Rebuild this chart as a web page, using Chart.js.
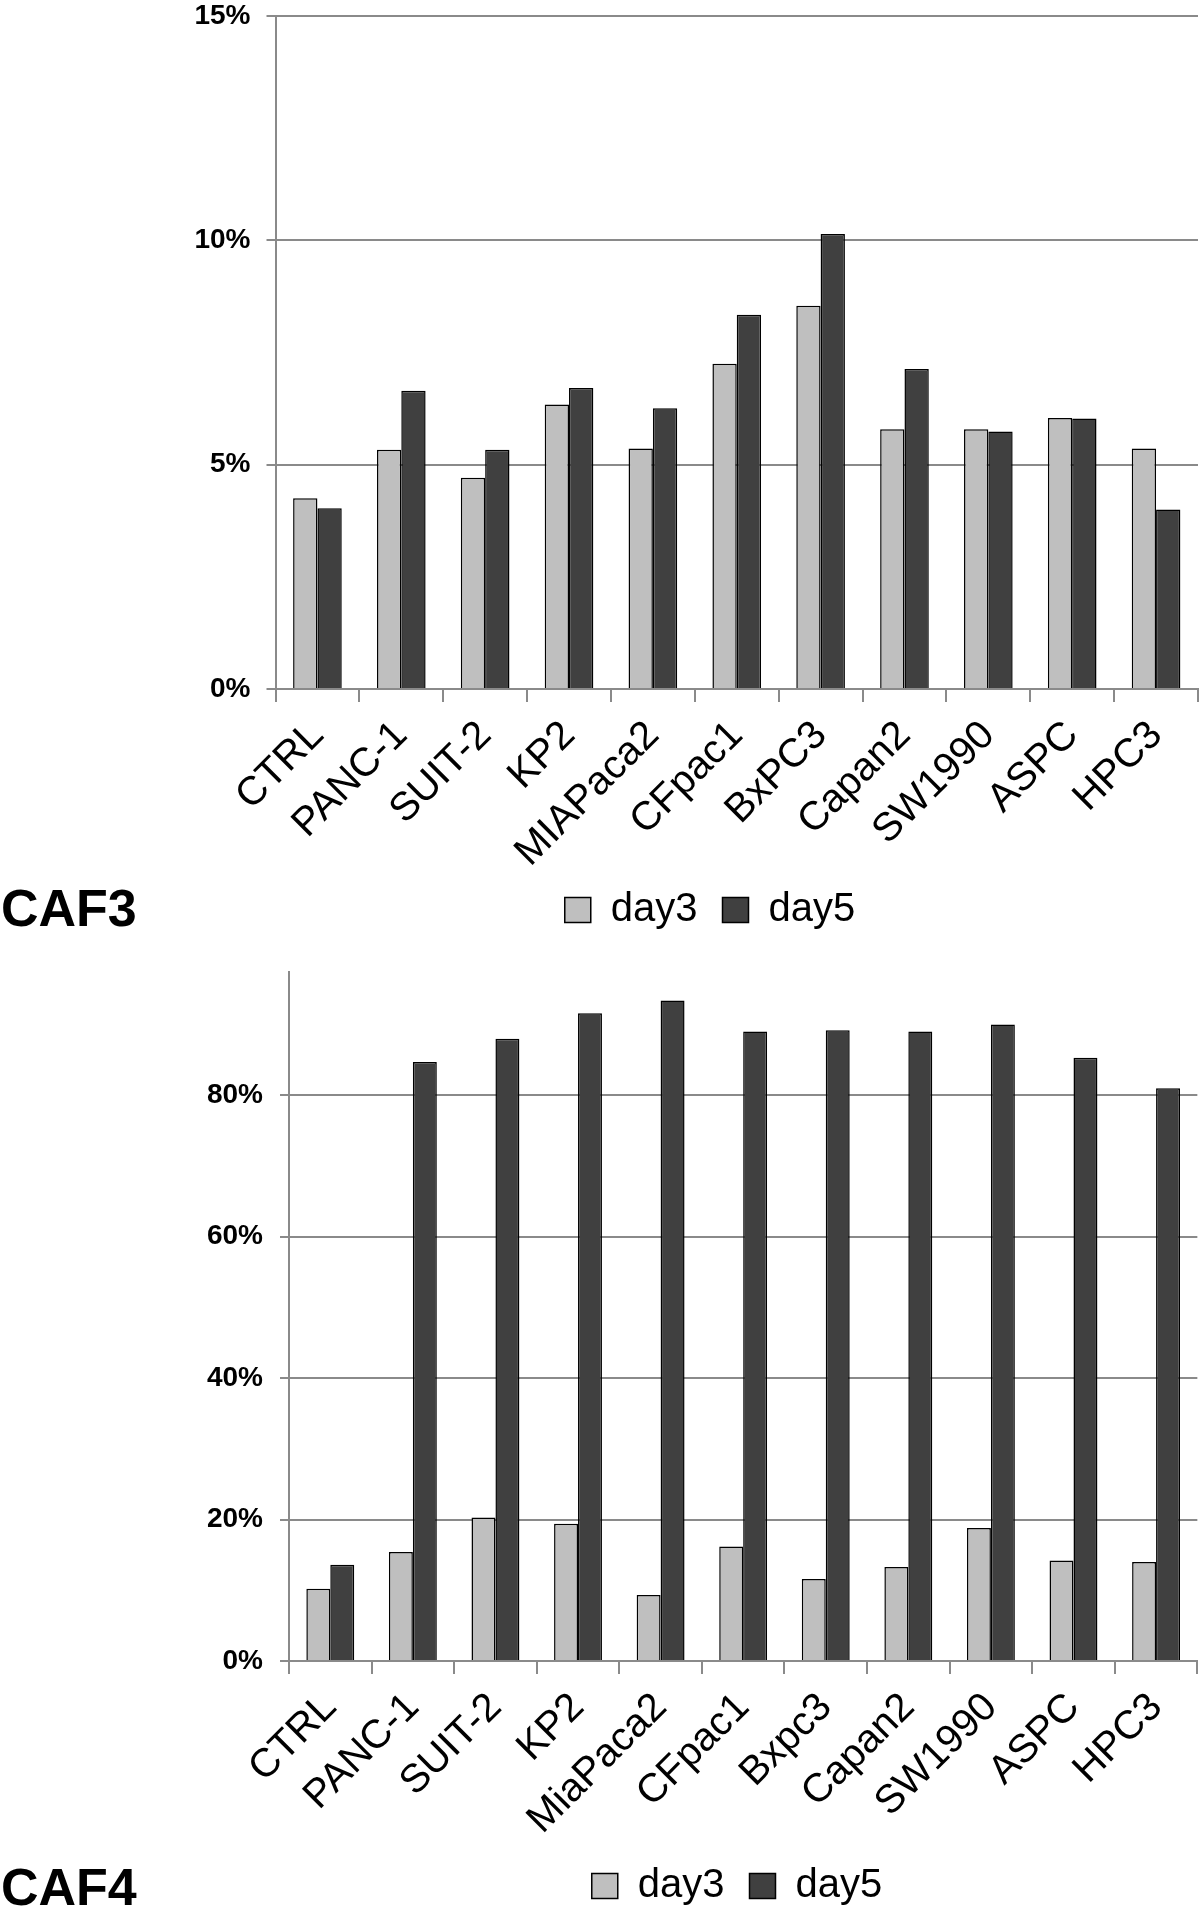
<!DOCTYPE html>
<html>
<head>
<meta charset="utf-8">
<title>CAF3 / CAF4</title>
<script src="https://cdn.jsdelivr.net/npm/chart.js@4.4.1/dist/chart.umd.min.js"></script>
<style>
  html, body { margin: 0; padding: 0; background: #fff; overflow: hidden; }
  body { width: 1200px; height: 1914px; position: relative; font-family: "Liberation Sans", Arial, Helvetica, sans-serif; }
  .panel { position: absolute; left: 0; width: 1200px; }
  .tag { position: absolute; left: 1px; font-weight: bold; font-size: 52px; line-height: 1; color: #000; }
</style>
</head>
<body>
<div class="panel" style="top:0;height:945px"><canvas id="caf3Chart" width="1200" height="945"></canvas></div>
<div class="panel" style="top:945px;height:1000px"><canvas id="caf4Chart" width="1200" height="1000"></canvas></div>
<div class="tag" style="top:882px">CAF3</div>
<div class="tag" style="top:1861px">CAF4</div>

<script>
// values (percent)
var caf3Labels = ["CTRL", "PANC-1", "SUIT-2", "KP2", "MIAPaca2", "CFpac1", "BxPC3", "Capan2", "SW1990", "ASPC", "HPC3"];
var caf3Day3 = [4.25, 5.33, 4.71, 6.34, 5.36, 7.25, 8.54, 5.79, 5.79, 6.04, 5.36];
var caf3Day5 = [4.03, 6.65, 5.33, 6.71, 6.26, 8.34, 10.14, 7.13, 5.74, 6.03, 4.0];
var caf3Ticks = [0, 5, 10, 15];

var caf4Labels = ["CTRL", "PANC-1", "SUIT-2", "KP2", "MiaPaca2", "CFpac1", "Bxpc3", "Capan2", "SW1990", "ASPC", "HPC3"];
var caf4Day3 = [10.2, 15.4, 20.3, 19.4, 9.35, 16.2, 11.6, 13.3, 18.8, 14.2, 14.0];
var caf4Day5 = [13.6, 84.7, 88.0, 91.6, 93.4, 89.0, 89.2, 89.0, 90.0, 85.3, 81.0];
var caf4Ticks = [0, 20, 40, 60, 80];

Chart.defaults.font.family = '"Liberation Sans", Arial, Helvetica, sans-serif';

var axisGrey = '#8a8a8a';

// the legend in the figure is not centred on the canvas, move its box
var legendShift = {
    id: 'legendShift',
    afterLayout: function(chart, args, opts) {
        var lg = chart.legend;
        if (!lg || opts.center == null) return;
        lg.left = 2 * opts.center - lg.right;
    }
};

function buildChart(id, labels, day3, day5, yMax, yTicks, g) {
    var ctx = document.getElementById(id).getContext('2d');
    return new Chart(ctx, {
        type: 'bar',
        data: {
            labels: labels,
            datasets: [{
                label: 'day3',
                data: day3,
                backgroundColor: '#bfbfbf',
                borderColor: '#000',
                borderWidth: 1.5,
                borderSkipped: 'bottom'
            }, {
                label: 'day5',
                data: day5,
                backgroundColor: '#404040',
                borderColor: '#000',
                borderWidth: 1.5,
                borderSkipped: 'bottom'
            }]
        },
        plugins: [legendShift],
        options: {
            responsive: false,
            animation: false,
            events: [],
            layout: { padding: { left: 0, top: g.padTop, right: 0, bottom: g.padBottom } },
            datasets: { bar: { categoryPercentage: 0.58, barPercentage: 1 } },
            plugins: {
                tooltip: { enabled: false },
                legendShift: { center: g.legendCenter },
                legend: {
                    position: 'bottom',
                    labels: {
                        color: '#000',
                        font: { size: 40 },
                        boxWidth: 26,
                        boxHeight: 25,
                        padding: 25
                    }
                }
            },
            scales: {
                x: {
                    grid: { drawOnChartArea: false, color: axisGrey, lineWidth: 2, tickLength: 13 },
                    border: { color: axisGrey, width: 2 },
                    ticks: { autoSkip: false, minRotation: 45, maxRotation: 45, color: '#000', font: { size: 40 }, padding: 10 },
                    afterFit: function(scale) { scale.height = g.xHeight; }
                },
                y: {
                    min: 0,
                    max: yMax,
                    afterBuildTicks: function(scale) {
                        scale.ticks = yTicks.map(function(v) { return { value: v }; });
                    },
                    grid: { color: axisGrey, lineWidth: 2, tickLength: 9 },
                    border: { color: axisGrey, width: 2 },
                    ticks: {
                        color: '#000',
                        font: { size: 28, weight: 'bold', lineHeight: 1 },
                        padding: g.yPad,
                        callback: function(v) { return v + '%'; }
                    },
                    afterFit: function(scale) {
                        scale.width = g.yRight;
                        scale.paddingTop = 0;
                        scale.paddingBottom = 0;
                    }
                }
            }
        }
    });
}

buildChart('caf3Chart', caf3Labels, caf3Day3, caf3Day5, 15, caf3Ticks,
    { padTop: 16, padBottom: 5, xHeight: 176, yRight: 275.5, yPad: 16, legendCenter: 710 });
buildChart('caf4Chart', caf4Labels, caf4Day3, caf4Day5, 97.5, caf4Ticks,
    { padTop: 26.5, padBottom: 29, xHeight: 180, yRight: 289, yPad: 17, legendCenter: 737 });
</script>
</body>
</html>
